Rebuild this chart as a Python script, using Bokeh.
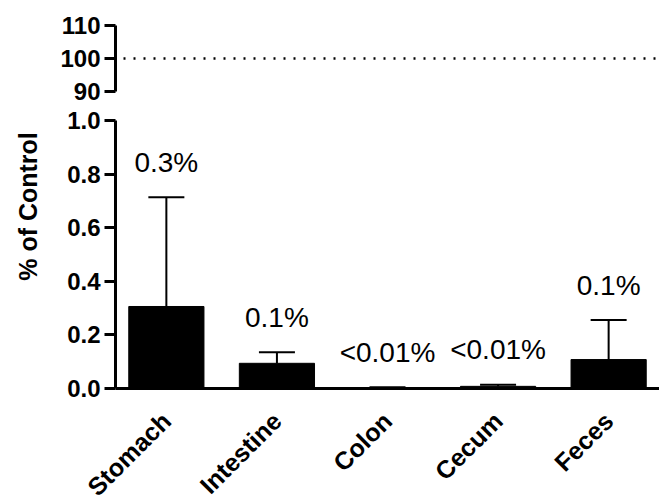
import math
from bokeh.plotting import figure
from bokeh.layouts import column, row
from bokeh.models import (ColumnDataSource, Range1d, Whisker, TeeHead,
                          Span, LabelSet, FixedTicker, Label, LinearAxis)
from bokeh.core.properties import value
from bokeh.embed import file_html
from bokeh.resources import INLINE

# ---- data ----
categories = ["Stomach", "Intestine", "Colon", "Cecum", "Feces"]
means = [0.306, 0.094, 0.003, 0.008, 0.108]
errors = [0.408, 0.041, 0.002, 0.006, 0.148]
value_labels = ["0.3%", "0.1%", "<0.01%", "<0.01%", "0.1%"]
control_level = 100
top_ticks = [90, 100, 110]
bottom_ticks = [0.0, 0.2, 0.4, 0.6, 0.8, 1.0]
y_title = "% of Control"

n = len(categories)
xpos = [i + 0.5 for i in range(n)]          # slot centres of the categories
upper = [m + e for m, e in zip(means, errors)]
label_gap = 0.13
src = ColumnDataSource(dict(x=xpos, cat=categories, mean=means, upper=upper,
                            label=value_labels,
                            label_y=[u + label_gap for u in upper]))

FONT = "Liberation Sans"
TITLE_W = 40
LEFT = 115 - TITLE_W
W = 659 - TITLE_W
H_TOP = 105
FRAME_BOT = 388               # pixel row of the zero line
AXIS_SPACE = 135              # room for rotated category labels
H_BOT = FRAME_BOT - H_TOP + AXIS_SPACE

PAD = 0.04
xr = Range1d(PAD, n - PAD)


def style_y(ax, ticks, bounds):
    ax.ticker = FixedTicker(ticks=ticks)
    ax.bounds = bounds
    ax.axis_line_width = 3
    ax.axis_line_color = "black"
    ax.major_tick_line_width = 3
    ax.major_tick_out = 11
    ax.major_tick_in = 0
    ax.minor_tick_line_color = None
    ax.major_label_text_font = FONT
    ax.major_label_text_font_style = "bold"
    ax.major_label_text_font_size = "24px"
    ax.major_label_text_color = "black"
    ax.major_label_standoff = 4


# ---- y title strip ----
pt = figure(width=TITLE_W, height=H_TOP + H_BOT, x_range=Range1d(0, TITLE_W),
            y_range=Range1d(0, H_TOP + H_BOT), x_axis_location=None,
            y_axis_location=None, output_backend="svg", toolbar_location=None,
            min_border_left=0, min_border_right=0, min_border_top=0,
            min_border_bottom=0)
pt.outline_line_color = None
pt.grid.visible = False
pt.add_layout(Label(x=27, y=H_TOP + H_BOT - 206, text=y_title, angle=math.pi / 2,
                    text_align="center", text_baseline="middle",
                    text_font=FONT, text_font_style="bold",
                    text_font_size="25px", text_color="black"))

# ---- top panel (90-110) ----
p1 = figure(width=W, height=H_TOP, x_range=xr, y_range=Range1d(85.76, 112.12),
            x_axis_location=None, output_backend="svg", toolbar_location=None,
            min_border_left=LEFT, min_border_right=0, min_border_top=18,
            min_border_bottom=0)
p1.outline_line_color = None
p1.grid.visible = False
style_y(p1.yaxis[0], top_ticks, (90, 110))
p1.add_layout(Span(location=control_level, dimension="width", line_color="black",
                   line_width=2.5, line_dash="2 8", line_dash_offset=-8))

# ---- bottom panel (0-1) ----
p2 = figure(width=W, height=H_BOT, x_range=xr, y_range=Range1d(0, 1.056),
            x_axis_location=None, output_backend="svg", toolbar_location=None,
            min_border_left=LEFT, min_border_right=0, min_border_top=0,
            min_border_bottom=AXIS_SPACE)
p2.outline_line_color = None
p2.grid.visible = False
style_y(p2.yaxis[0], bottom_ticks, (0, 1.0))
p2.yaxis[0].major_label_overrides = {t: f"{t:.1f}" for t in bottom_ticks}

xa = LinearAxis(ticker=FixedTicker(ticks=xpos),
                major_label_overrides={t: c for t, c in zip(xpos, categories)})
xa.axis_line_width = 3
xa.axis_line_color = "black"
xa.major_tick_line_color = None
xa.major_tick_in = 0
xa.major_tick_out = 0
xa.minor_tick_line_color = None
xa.major_label_orientation = math.pi / 4
xa.major_label_text_font = FONT
xa.major_label_text_font_style = "bold"
xa.major_label_text_font_size = "25px"
xa.major_label_text_color = "black"
xa.major_label_standoff = 28
p2.add_layout(xa, "below")

p2.vbar(x="x", top="mean", width=0.68, source=src, fill_color="black",
        line_color="black")
p2.add_layout(Whisker(source=src, base="x", upper="upper", lower="mean",
                      line_width=2, line_color="black",
                      upper_head=TeeHead(size=36, line_width=2, line_color="black"),
                      lower_head=None))
p2.add_layout(LabelSet(source=src, x="x", y="label_y", text="label",
                       text_align="center", text_baseline="middle",
                       text_font=value(FONT), text_font_size="28px",
                       text_color="black"))

layout = row(pt, column(p1, p2, spacing=0), spacing=0)
open("out.html", "w").write(file_html(layout, INLINE))
